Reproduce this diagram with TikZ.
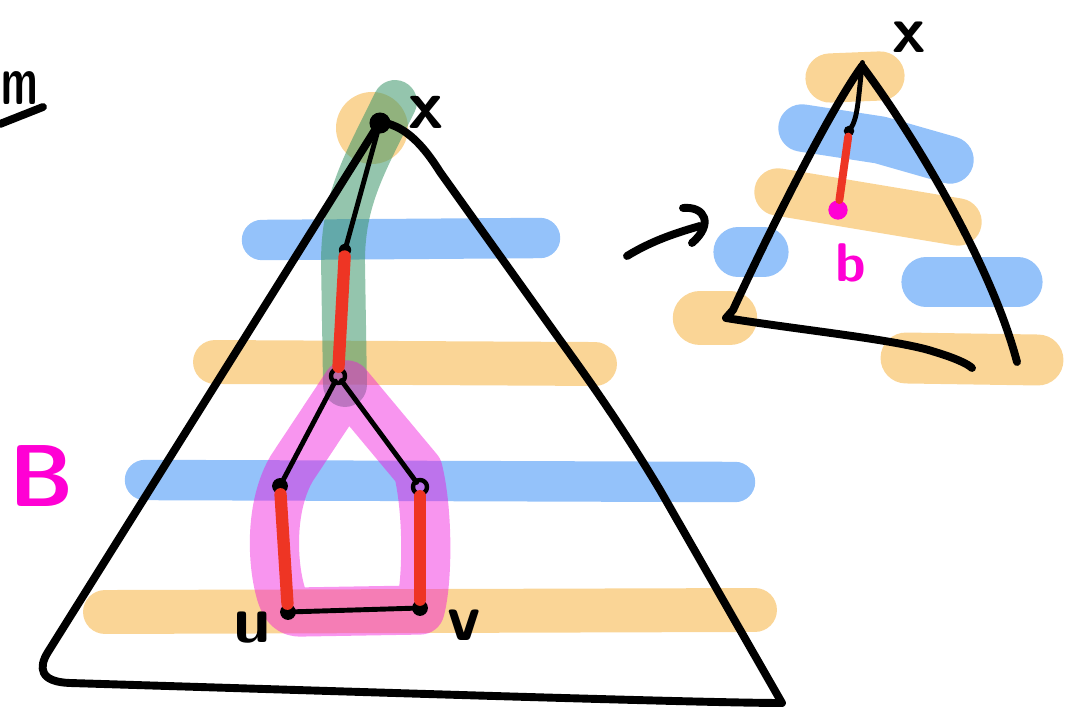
\documentclass[tikz,border=0pt]{standalone}
\definecolor{hlor}{RGB}{250,213,150}
\definecolor{hlbl}{RGB}{148,194,250}
\definecolor{hlgr}{RGB}{60,150,105}
\definecolor{hlmag}{RGB}{240,20,220}
\definecolor{penred}{RGB}{238,53,36}
\definecolor{penmag}{RGB}{255,0,212}
\begin{document}
\begin{tikzpicture}[x=0.02cm,y=-0.02cm,line join=round,line cap=round,
    orband/.style={draw=hlor,line width=25pt},
    blband/.style={draw=hlbl,line width=23pt},
    pen/.style={line width=4.5pt},
    edge/.style={line width=2.8pt,shorten <=-2pt,shorten >=-2pt},
    redge/.style={draw=penred,line width=7pt},
    vdot/.style={circle,fill,inner sep=0pt,minimum size=9pt},
    vring/.style={circle,draw,line width=2.5pt,inner sep=0pt,minimum size=8pt},
    lbl/.style={font=\sffamily\bfseries\fontsize{#1}{#1}\selectfont,inner sep=0pt}]
  \useasboundingbox (0,0) rectangle (1071,715);
  % highlighter bands, big tree
  \fill[hlor] (372,128) circle (36);
  \draw[orband] (215,362) -- (595,364);
  \draw[orband] (105,612) -- (755,610);
  \draw[blband] (262,240) -- (540,238);
  \draw[blband] (145,480) -- (735,482);
  \draw[draw=hlgr,opacity=.55,line width=25pt] (395,102) .. controls (364,165) and (343,200) .. (343,262) -- (345,385);
  \draw[draw=hlmag,opacity=.45,line width=28pt] (347,385) -- (292,468) .. controls (270,505) and (272,560) .. (280,590) .. controls (284,606) and (290,612) .. (300,612) -- (420,610) .. controls (428,580) and (428,510) .. (418,470) -- cycle;
  % highlighter bands, small tree
  \draw[hlor,line width=28pt] (830,78) -- (880,76);
  \draw[hlbl,line width=27pt] (802,128) -- (880,140) -- (950,160);
  \draw[hlor,line width=27pt] (778,192) -- (958,222);
  \draw[hlbl,line width=28pt] (738,252) -- (764,252);
  \draw[hlbl,line width=28pt] (926,282) -- (1018,282);
  \draw[hlor,line width=31pt] (700,318) -- (730,318);
  \draw[hlor,line width=29pt] (906,358) -- (1038,360);
  % big tree
  \draw[pen] (380,122) .. controls (402,125) and (420,140) .. (440,172) -- (560,340) .. controls (600,395) and (630,440) .. (660,490) -- (782,703) .. controls (700,703) and (300,690) .. (70,683) .. controls (40,682) and (38,668) .. (48,652) -- cycle;
  \node[vdot,minimum size=12pt] (x) at (380,123) {};
  \node[vdot,minimum size=7pt] (w) at (345,250) {};
  \node[vring] (y) at (338,376) {};
  \node[vdot] (p) at (280,486) {};
  \node[vring] (q) at (420,487) {};
  \node[vdot] (u) at (288,612) {};
  \node[vdot] (v) at (420,608) {};
  \draw[edge] (x) -- (w);
  \draw[edge] (y) -- (p);
  \draw[edge] (y) -- (q);
  \draw[edge] (u) -- (v);
  \draw[redge] (w) -- (y);
  \draw[redge] (p) -- (u);
  \draw[redge] (q) -- (v);
  \node[lbl=40] (lx) at (426,112) {x};
  \node[lbl=38] (lu) at (252,628) {u};
  \node[lbl=38] (lv) at (464,625) {v};
  \node[lbl=50,text=penmag] (lB) at (42,476) {B};
  \node[lbl=40,xscale=.6,anchor=west] (lm) at (1,88) {m};
  \draw[pen] (0,124) -- (43,107);
  % arrow
  \coordinate (a0) at (627,256);
  \coordinate (a1) at (700,226);
  \draw[pen] (a0) .. controls (650,242) and (672,234) .. (a1);
  \draw[pen] (683,208) .. controls (705,206) and (714,224) .. (692,243);
  % small tree
  \coordinate (sx) at (862,66);
  \draw[pen] (sx) .. controls (830,110) and (770,230) .. (733,310) -- (726,318) .. controls (800,330) and (900,340) .. (935,352) .. controls (955,358) and (968,364) .. (972,368);
  \draw[pen] (sx) .. controls (910,130) and (990,260) .. (1017,362);
  \node[vdot,minimum size=6pt] (sb) at (849,131) {};
  \node[vdot,text=penmag,fill=penmag,minimum size=11pt] (bb) at (838,210) {};
  \draw[edge] (sx) .. controls (858,100) and (858,118) .. (sb);
  \draw[redge,line width=4.5pt] (sb) -- (bb);
  \node[lbl=38] (lx2) at (909,37) {x};
  \node[lbl=31,text=penmag] (lb) at (851,263) {b};
\end{tikzpicture}
\end{document}
